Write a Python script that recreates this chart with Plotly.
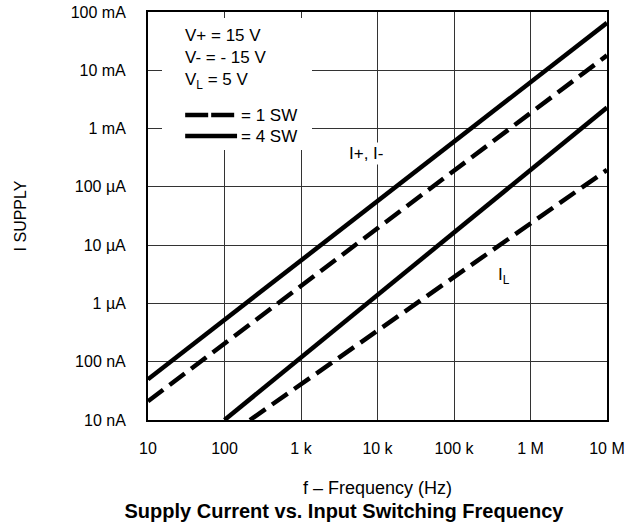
import plotly.graph_objects as go

# ---- data ----
freq_ipm_4sw = [10, 1e7]
supply_ipm_4sw = [50e-9, 65e-3]       # I+, I-  4 SW (solid)
freq_ipm_1sw = [10, 1e7]
supply_ipm_1sw = [21e-9, 18e-3]       # I+, I-  1 SW (dashed)
freq_il_4sw = [100, 1e7]
supply_il_4sw = [10e-9, 2.3e-3]       # IL 4 SW (solid)
freq_il_1sw = [215, 1e7]
supply_il_1sw = [10e-9, 0.195e-3]     # IL 1 SW (dashed)

x_tickvals = [10, 100, 1e3, 1e4, 1e5, 1e6, 1e7]
x_ticktext = ["10", "100", "1 k", "10 k", "100 k", "1 M", "10 M"]
y_tickvals = [1e-8, 1e-7, 1e-6, 1e-5, 1e-4, 1e-3, 1e-2, 1e-1]
y_ticktext = ["10 nA", "100 nA", "1 µA", "10 µA", "100 µA", "1 mA", "10 mA", "100 mA"]

FONT = "Liberation Sans, Arial, sans-serif"
DASH = "19px,8px"
LW = 4.5

fig = go.Figure()
for fx, fy, dash in [
    (freq_ipm_4sw, supply_ipm_4sw, "solid"),
    (freq_ipm_1sw, supply_ipm_1sw, DASH),
    (freq_il_4sw, supply_il_4sw, "solid"),
    (freq_il_1sw, supply_il_1sw, DASH),
]:
    fig.add_trace(go.Scatter(x=fx, y=fy, mode="lines",
                             line=dict(color="black", width=LW, dash=dash),
                             showlegend=False, hoverinfo="skip"))

# white box behind the condition text / legend
fig.add_shape(type="rect", xref="paper", yref="paper",
              x0=0.0305, x1=0.3573, y0=0.662, y1=0.985,
              fillcolor="white", line=dict(width=0), layer="above")
# legend samples
fig.add_shape(type="line", xref="paper", yref="paper",
              x0=0.081, x1=0.194, y0=0.7475, y1=0.7475,
              line=dict(color="black", width=LW, dash="23px,3px"), layer="above")
fig.add_shape(type="line", xref="paper", yref="paper",
              x0=0.081, x1=0.194, y0=0.696, y1=0.696,
              line=dict(color="black", width=LW), layer="above")

def ann(text, x, y, xanchor="left", bg=None, size=17):
    fig.add_annotation(text=text, x=x, y=y, xref="paper", yref="paper",
                       xanchor=xanchor, yanchor="middle", showarrow=False,
                       font=dict(family=FONT, size=size, color="#000000"),
                       bgcolor=bg)

ann("V+ = 15 V", 0.0763, 0.9436)
ann("V- = - 15 V", 0.0763, 0.8897)
ann("V<sub>L</sub> = 5 V", 0.0763, 0.832)
ann("= 1 SW", 0.198, 0.7475)
ann("= 4 SW", 0.198, 0.696)
ann("I+, I-", 0.475, 0.652, xanchor="center", bg="white", size=17)
ann("I<sub>L</sub>", 0.758, 0.352)

axis_common = dict(type="log", showgrid=True, gridcolor="#333333", gridwidth=1,
                   showline=True, linecolor="black", linewidth=2, mirror=True,
                   ticks="", zeroline=False, automargin=False,
                   tickfont=dict(family=FONT, size=16, color="black"))

fig.update_xaxes(range=[1, 7], tickvals=x_tickvals, ticktext=x_ticktext,
                 ticklabelstandoff=13,
                 title=dict(text="f – Frequency (Hz)", standoff=25,
                            font=dict(family=FONT, size=18, color="black")),
                 **axis_common)
fig.update_yaxes(range=[-8, -1], tickvals=y_tickvals, ticktext=y_ticktext,
                 ticklabelstandoff=17,
                 title=dict(text="I SUPPLY", standoff=40,
                            font=dict(family=FONT, size=16, color="black")),
                 **axis_common)

fig.update_layout(
    width=630, height=524,
    margin=dict(l=148, r=23, t=12, b=104, autoexpand=False),
    plot_bgcolor="white", paper_bgcolor="white",
    font=dict(color="black"),
    title=dict(text="<b>Supply Current vs. Input Switching Frequency</b>",
               x=0.546, xanchor="center", xref="container",
               y=0.025, yanchor="middle", yref="container",
               font=dict(family=FONT, size=20, color="black")),
)

fig.write_html("out.html", config={"displayModeBar": False},
               post_script="document.body.style.margin='0';")
